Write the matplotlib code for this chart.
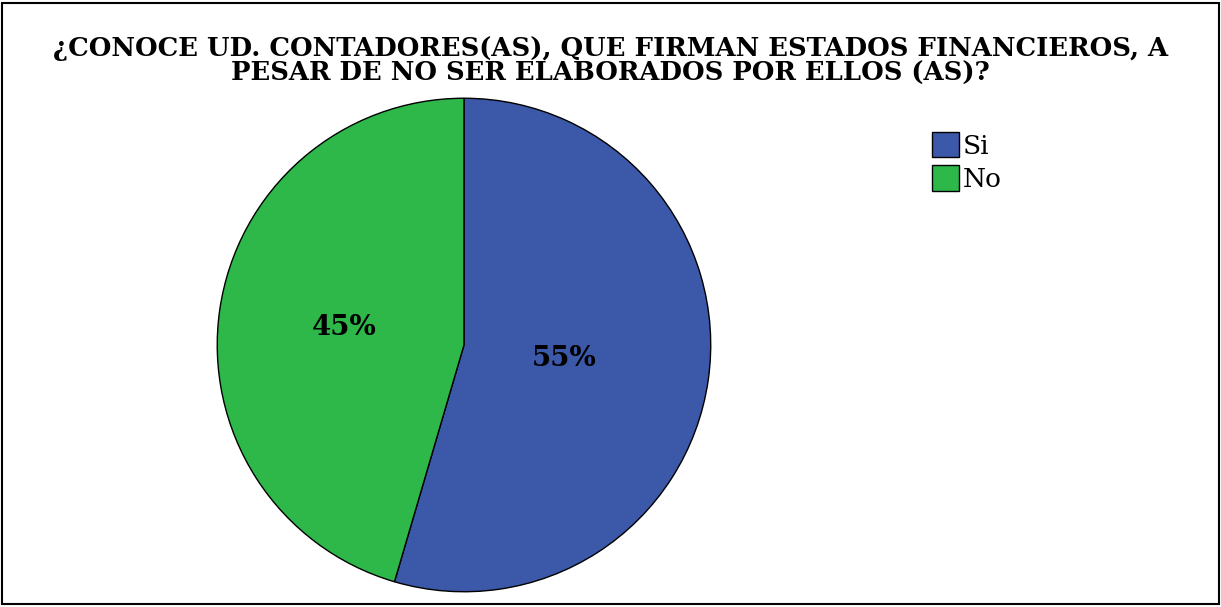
import matplotlib
matplotlib.use("Agg")
import matplotlib.pyplot as plt
import matplotlib.transforms as mtransforms
from matplotlib.patches import Rectangle

categories = ["Si", "No"]
counts = [12, 10]
colors = ["#3c58a9", "#2fb84a"]
title = "¿CONOCE UD. CONTADORES(AS), QUE FIRMAN ESTADOS FINANCIEROS, A\nPESAR DE NO SER ELABORADOS POR ELLOS (AS)?"

serif = ['DejaVu Serif']
plt.rcParams['font.family'] = serif

fig = plt.figure(figsize=(12.21, 6.07), dpi=100)
fig.patches.append(Rectangle((0.002, 0.005), 0.996, 0.99, transform=fig.transFigure,
                             fill=False, edgecolor="black", linewidth=1.5))

ax = fig.add_axes([0.1769, 0.0231, 0.4062, 0.8171])
wedges, texts, autotexts = ax.pie(counts, colors=colors, startangle=90, counterclock=False,
                                  autopct=lambda p: f"{p:.0f}%", pctdistance=0.45,
                                  wedgeprops=dict(edgecolor="black", linewidth=1.0),
                                  textprops=dict(fontsize=20, fontweight="bold", family=serif))
ax.set_xlim(-1.005, 1.005)
ax.set_ylim(-1.005, 1.005)
ax.set_aspect("equal")

offset = mtransforms.ScaledTranslation(-10 / 100, 2 / 100, fig.dpi_scale_trans)
for t in autotexts:
    t.set_transform(t.get_transform() + offset)

fig.text(0.5, 0.94, title, ha="center", va="top", fontsize=18.6, fontweight="bold",
         linespacing=0.98, family=serif)

leg = fig.legend(wedges, categories, loc="upper left", bbox_to_anchor=(0.763, 0.783),
                 frameon=False, prop=dict(family=serif, size=19), handlelength=1.02,
                 handleheight=1.12, handletextpad=0.15, labelspacing=0.25, borderaxespad=0,
                 borderpad=0)

fig.savefig("out.png", dpi=100)
